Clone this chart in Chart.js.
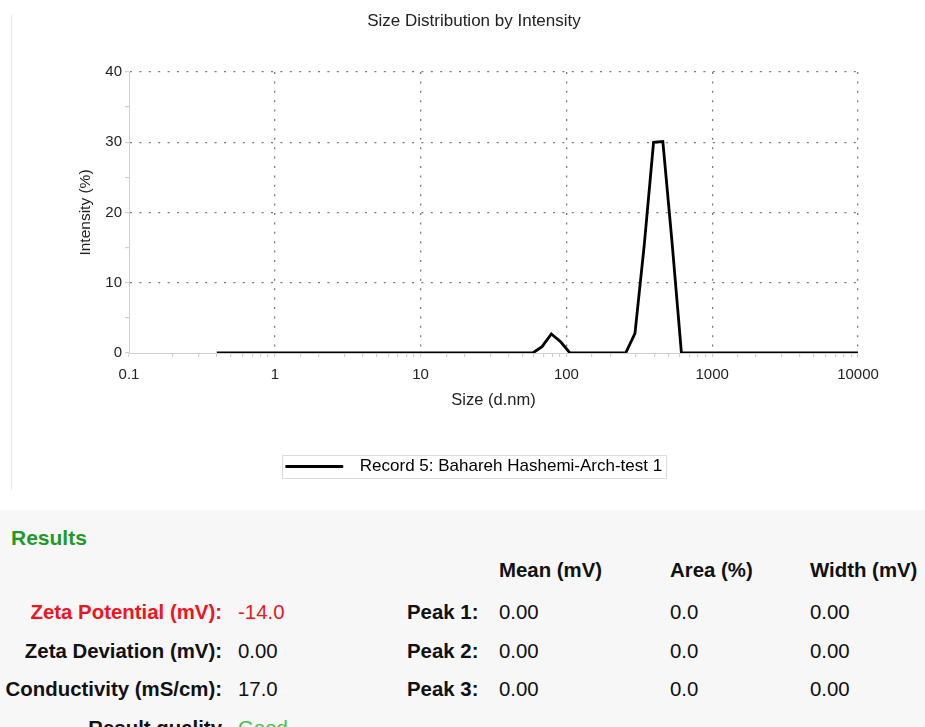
<!DOCTYPE html>
<html>
<head>
<meta charset="utf-8">
<script src="https://cdn.jsdelivr.net/npm/chart.js@4"></script>
<style>
  html, body { margin: 0; padding: 0; width: 925px; height: 727px; overflow: hidden; background: #fff; font-family: "Liberation Sans", Arial, sans-serif; }
  #frame { position: absolute; left: 11px; top: 15px; width: 0; height: 475px; border-left: 1px solid #e8e8e8; }
  #myChart { position: absolute; left: 12px; top: 0; }
  #results { position: absolute; left: 0; top: 510px; width: 925px; height: 217px; background: #f7f7f7; }
  .t { position: absolute; white-space: nowrap; font-size: 20.4px; line-height: 24px; color: #111; }
  .b { font-weight: bold; }
  .right { text-align: right; }
  .red { color: #f0141e; }
</style>
</head>
<body>
<div id="frame"></div>
<canvas id="myChart" width="924" height="485"></canvas>
<div id="results"></div>
<script>
// size bins (d.nm) and intensity (%)
var sizes = [0.4, 0.4632, 0.5365, 0.6213, 0.7195, 0.8332, 0.9649, 1.117, 1.294, 1.499,
  1.736, 2.01, 2.328, 2.696, 3.122, 3.615, 4.187, 4.849, 5.615, 6.503,
  7.531, 8.721, 10.1, 11.7, 13.54, 15.69, 18.17, 21.04, 24.36, 28.21,
  32.67, 37.84, 43.82, 50.75, 58.77, 68.06, 78.82, 91.28, 105.7, 122.4,
  141.8, 164.2, 190.1, 220.2, 255.0, 295.3, 342.0, 396.1, 458.7, 531.2,
  615.1, 712.4, 825.0, 955.4, 1106, 1281, 1484, 1718, 1990, 2305,
  2669, 3091, 3580, 4145, 4801, 5560, 6439, 7456, 8635, 10000];
var intensity = [0, 0, 0, 0, 0, 0, 0, 0, 0, 0,
  0, 0, 0, 0, 0, 0, 0, 0, 0, 0,
  0, 0, 0, 0, 0, 0, 0, 0, 0, 0,
  0, 0, 0, 0, 0, 0.9, 2.7, 1.6, 0, 0,
  0, 0, 0, 0, 0, 2.8, 15.4, 30.0, 30.1, 15.6,
  0, 0, 0, 0, 0, 0, 0, 0, 0, 0,
  0, 0, 0, 0, 0, 0, 0, 0, 0, 0];
var recordLabel = 'Record 5: Bahareh Hashemi-Arch-test 1';
var xMajor = [0.1, 1, 10, 100, 1000, 10000];

var points = sizes.map(function (s, i) { return {x: s, y: intensity[i]}; });

var isMajorX = function (v) { return xMajor.some(function (m) { return Math.abs(v - m) < m * 1e-6; }); };

var legendBox = {
  id: 'legendBox',
  afterDraw: function (chart) {
    var hb = chart.legend.legendHitBoxes[0];
    if (!hb) return;
    var c = chart.ctx;
    c.save();
    c.strokeStyle = '#dcdcdc';
    c.lineWidth = 1;
    c.strokeRect(Math.round(hb.left - 4) + 0.5, Math.round(hb.top + hb.height / 2 - 12) + 0.5, Math.round(hb.width + 8), 23);
    c.restore();
  }
};

var tickFont = {family: 'Liberation Sans', size: 15};

var ctx = document.getElementById('myChart');
var myChart = new Chart(ctx, {
  type: 'line',
  data: {
    datasets: [{
      label: recordLabel,
      data: points,
      borderColor: '#000',
      backgroundColor: '#000',
      borderWidth: 2.8,
      pointRadius: 0,
      tension: 0,
      fill: false
    }]
  },
  options: {
    responsive: false,
    animation: false,
    layout: {padding: 0},
    plugins: {
      title: {
        display: true,
        text: 'Size Distribution by Intensity',
        color: '#222',
        font: {family: 'Liberation Sans', size: 17, weight: 'normal'},
        padding: {top: 11, bottom: 40.6}
      },
      legend: {
        position: 'bottom',
        labels: {
          boxWidth: 57,
          boxHeight: 2,
          padding: 44,
          color: '#222',
          font: {family: 'Liberation Sans', size: 17},
          generateLabels: function (chart) {
            return [{text: '\u2002' + recordLabel, fillStyle: '#000', strokeStyle: '#000', lineWidth: 1, hidden: false, datasetIndex: 0}];
          }
        }
      },
      tooltip: {enabled: false}
    },
    scales: {
      x: {
        type: 'logarithmic',
        min: 0.1,
        max: 10000,
        afterFit: function (s) { s.height = 61; },
        title: {display: true, text: 'Size (d.nm)', color: '#222', font: {family: 'Liberation Sans', size: 16.5}, padding: {top: 4, bottom: 4}},
        ticks: {
          autoSkip: false,
          maxRotation: 0,
          padding: 9,
          color: '#222',
          font: tickFont,
          callback: function (v) { return isMajorX(v) ? String(v) : ''; }
        },
        grid: {
          color: function (c) { return c.tick && isMajorX(c.tick.value) && c.tick.value !== 0.1 ? '#7a7a7a' : 'rgba(0,0,0,0)'; },
          lineWidth: 1.3,
          tickColor: '#c8c8c8',
          tickLength: 4,
          tickWidth: 1
        },
        border: {display: true, color: '#cfcfcf', width: 1, dash: [2, 7.4]}
      },
      y: {
        min: 0,
        max: 40,
        afterFit: function (s) { s.width = 117; },
        title: {display: true, text: 'Intensity (%)', color: '#222', font: {family: 'Liberation Sans', size: 15.5}, padding: {top: 64.7, bottom: 4}},
        ticks: {
          stepSize: 5,
          padding: 3,
          color: '#222',
          font: tickFont,
          callback: function (v) { return v % 10 === 0 ? String(v) : ''; }
        },
        grid: {
          color: function (c) { return c.tick && c.tick.value % 10 === 0 && c.tick.value !== 0 ? '#7a7a7a' : 'rgba(0,0,0,0)'; },
          lineWidth: 1.3,
          tickColor: '#c8c8c8',
          tickLength: 4,
          tickWidth: 1
        },
        border: {display: true, color: '#cfcfcf', width: 1, dash: [2, 7.4]}
      },
      yRight: {
        position: 'right',
        display: true,
        afterFit: function (s) { s.width = 78; },
        ticks: {display: false},
        grid: {display: false},
        border: {display: false}
      }
    }
  },
  plugins: [legendBox]
});

// results table below the chart
var resultHeaders = ['Mean (mV)', 'Area (%)', 'Width (mV)'];
var resultLabels = ['Zeta Potential (mV):', 'Zeta Deviation (mV):', 'Conductivity (mS/cm):', 'Result quality'];
var resultValues = ['-14.0', '0.00', '17.0', 'Good'];
var peakLabels = ['Peak 1:', 'Peak 2:', 'Peak 3:'];
var peakMean = ['0.00', '0.00', '0.00'];
var peakArea = ['0.0', '0.0', '0.0'];
var peakWidth = ['0.00', '0.00', '0.00'];

var rowsY = [612, 651, 689, 728];
var colX = [499, 670, 810];
var box = document.getElementById('results');
function put(text, left, cy, cls, style, alignRight) {
  var d = document.createElement('div');
  d.className = 't ' + (cls || '') + (alignRight ? ' right' : '');
  d.textContent = text;
  d.style.top = (cy - 510 - 12) + 'px';
  if (alignRight) { d.style.right = (925 - left) + 'px'; } else { d.style.left = left + 'px'; }
  if (style) Object.assign(d.style, style);
  box.appendChild(d);
}
put('Results', 11, 538, 'b', {color: '#1f9a27', fontSize: '21px'});
resultHeaders.forEach(function (h, i) { put(h, colX[i], 570, 'b'); });
resultLabels.forEach(function (l, i) {
  put(l, 222, rowsY[i], 'b' + (i === 0 ? ' red' : ''), null, true);
  put(resultValues[i], 238, rowsY[i], i === 0 ? 'red' : '', i === 3 ? {color: '#3fc43f'} : null);
});
peakLabels.forEach(function (p, i) {
  put(p, 407, rowsY[i], 'b');
  put(peakMean[i], colX[0], rowsY[i]);
  put(peakArea[i], colX[1], rowsY[i]);
  put(peakWidth[i], colX[2], rowsY[i]);
});
</script>
</body>
</html>
